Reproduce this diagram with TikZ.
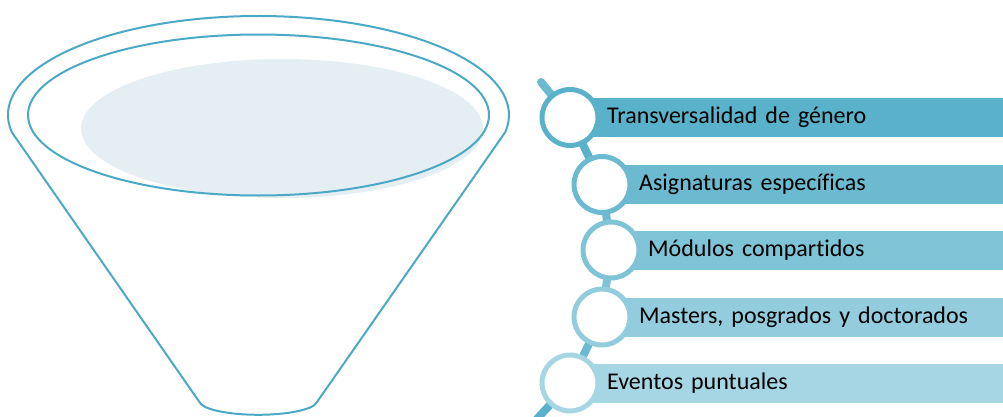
\documentclass[tikz,border=0pt]{standalone}
\usepackage{fontspec}
\setmainfont[Ligatures={NoCommon}]{Carlito}
\usepackage{tikz}
\usetikzlibrary{backgrounds}
\definecolor{funnelblue}{HTML}{4BA9C5}
\definecolor{funnelfill}{HTML}{E4EEF3}
\definecolor{tone1}{HTML}{5AB2CA}
\definecolor{tone2}{HTML}{6CBAD0}
\definecolor{tone3}{HTML}{7FC3D6}
\definecolor{tone4}{HTML}{92CCDD}
\definecolor{tone5}{HTML}{A6D6E4}

\begin{document}
\begin{tikzpicture}[
    x=1pt, y=1pt,
    ring/.style={circle, draw, fill=white, line width=5pt, minimum size=56pt, inner sep=0pt},
    bar/.style={anchor=west, minimum height=39pt, inner ysep=0pt, inner xsep=37pt, text width=430pt, font=\fontsize{24}{28}\selectfont},
    link/.style={line width=8pt},
    funnel/.style={draw=funnelblue, line width=2pt}
]
\useasboundingbox (0,0) rectangle (1003,416);

% funnel
\fill[funnelfill] (282,287.5) ellipse[x radius=201, y radius=69.5];
\draw[funnel] (258.5,301) ellipse[x radius=230.5, y radius=80.5];
\draw[funnel, line join=round] (258.5,301) ++(190:250.5 and 99) arc[start angle=190, end angle=-10, x radius=250.5, y radius=99]
    -- (317,14) arc[start angle=355, end angle=185, x radius=59, y radius=14] -- cycle;

% steps
\node[ring, draw=tone1] (c1) at (570,298.5) {};
\node[ring, draw=tone2] (c2) at (602,231.5) {};
\node[ring, draw=tone3] (c3) at (611,166) {};
\node[ring, draw=tone4] (c4) at (602,99) {};
\node[ring, draw=tone5] (c5) at (570,33) {};
\coordinate (top) at (541,334);
\coordinate (bot) at (536,-4);

\begin{scope}[on background layer]
\node[bar, fill=tone1] (b1) at (c1.center) {Transversalidad de género};
\node[bar, fill=tone2] (b2) at (c2.center) {Asignaturas específicas};
\node[bar, fill=tone3] (b3) at (c3.center) {Módulos compartidos};
\node[bar, fill=tone4] (b4) at (c4.center) {Masters, posgrados y doctorados};
\node[bar, fill=tone5] (b5) at (c5.center) {Eventos puntuales};

\draw[link, tone2, line cap=round] (top) -- (c1.center);
\draw[link, tone1] (c1.center) -- (c2.center);
\draw[link, tone2] (c2.center) -- (c3.center);
\draw[link, tone3] (c3.center) -- (c4.center);
\draw[link, tone2] (c4.center) -- (c5.center);
\draw[link, tone1] (c5.center) -- (bot);
\end{scope}
\end{tikzpicture}
\end{document}
